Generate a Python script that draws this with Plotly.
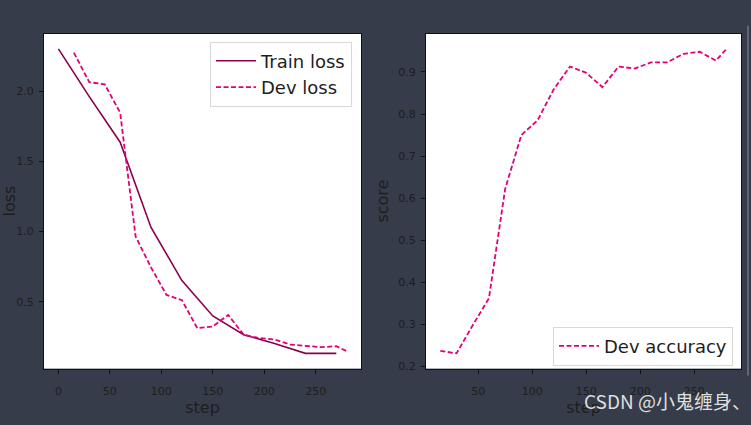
import plotly.graph_objects as go

# train loss, logged every 30 steps
train_steps = [0, 30, 60, 90, 120, 150, 180, 210, 240, 270]
train_loss = [2.30, 1.96, 1.636, 1.03, 0.652, 0.40, 0.267, 0.204, 0.134, 0.134]

# dev evaluation, every 15 steps plus the last step
dev_steps = [15, 30, 45, 60, 75, 90, 105, 120, 135, 150, 165, 180, 195, 210, 225, 240, 255, 270, 280]
dev_loss = [2.273, 2.063, 2.047, 1.846, 0.965, 0.745, 0.55, 0.512, 0.313, 0.325,
            0.407, 0.267, 0.243, 0.232, 0.197, 0.185, 0.178, 0.185, 0.15]
dev_acc = [0.237, 0.231, 0.298, 0.362, 0.622, 0.75, 0.785, 0.859, 0.913, 0.898,
           0.864, 0.913, 0.908, 0.923, 0.923, 0.943, 0.948, 0.927, 0.955]

x_ticks_left = [0, 50, 100, 150, 200, 250]
x_ticks_right = [50, 100, 150, 200, 250]
y_ticks_loss = [0.5, 1.0, 1.5, 2.0]
y_ticks_score = [0.2, 0.3, 0.4, 0.5, 0.6, 0.7, 0.8, 0.9]

TRAIN_COLOR = "#8E004D"
DEV_COLOR = "#E20079"
BG = "#363c4a"
TXT = "#1e1e1e"
W, H = 751, 425
DASH = "5px,2.5px"


def pad(vals, frac=0.05):
    lo, hi = min(vals), max(vals)
    m = (hi - lo) * frac
    return [lo - m, hi + m]


fig = go.Figure()

fig.add_trace(go.Scatter(
    x=train_steps, y=train_loss, name="Train loss", mode="lines",
    line=dict(color=TRAIN_COLOR, width=1.6), xaxis="x", yaxis="y", legend="legend",
))
fig.add_trace(go.Scatter(
    x=dev_steps, y=dev_loss, name="Dev loss", mode="lines",
    line=dict(color=DEV_COLOR, width=1.8, dash=DASH), xaxis="x", yaxis="y", legend="legend",
))
fig.add_trace(go.Scatter(
    x=dev_steps, y=dev_acc, name="Dev accuracy", mode="lines",
    line=dict(color=DEV_COLOR, width=1.8, dash=DASH), xaxis="x2", yaxis="y2", legend="legend2",
))

axis_style = dict(
    showline=True, mirror=True, linecolor="#111", linewidth=1,
    ticks="outside", ticklen=4, tickcolor="#111",
    showgrid=False, zeroline=False,
    tickfont=dict(family="DejaVu Sans", size=11, color=TXT),
)
title_font = dict(family="DejaVu Sans", size=16, color=TXT)
legend_font = dict(family="DejaVu Sans", size=18, color=TXT)

y_dom = [1 - 373 / H, 1 - 34 / H]

fig.update_layout(
    width=W, height=H,
    margin=dict(l=0, r=0, t=0, b=0),
    paper_bgcolor=BG, plot_bgcolor="white",
    showlegend=True,
    xaxis=dict(domain=[44 / W, 361 / W], range=pad(train_steps + dev_steps), tickvals=x_ticks_left,
               ticklabelstandoff=8,
               title=dict(text="step", font=title_font, standoff=4), anchor="y", **axis_style),
    yaxis=dict(domain=y_dom, range=pad(train_loss + dev_loss), tickvals=y_ticks_loss, tickformat=".1f",
               ticklabelstandoff=3,
               title=dict(text="loss", font=title_font, standoff=3), anchor="x", **axis_style),
    xaxis2=dict(domain=[426 / W, 741 / W], range=pad(dev_steps), tickvals=x_ticks_right,
                ticklabelstandoff=8,
                title=dict(text="step", font=title_font, standoff=4), anchor="y2", **axis_style),
    yaxis2=dict(domain=y_dom, range=pad(dev_acc), tickvals=y_ticks_score, tickformat=".1f",
                ticklabelstandoff=3,
                title=dict(text="score", font=title_font, standoff=5), anchor="x2", **axis_style),
    legend=dict(x=352 / W, y=1 - 42 / H, xanchor="right", yanchor="top", itemwidth=40,
                tracegroupgap=0, bgcolor="white", bordercolor="#d8d8d8", borderwidth=1,
                font=legend_font),
    legend2=dict(x=733 / W, y=1 - 370 / H, xanchor="right", yanchor="bottom", itemwidth=40,
                 bgcolor="white", bordercolor="#d8d8d8", borderwidth=1, font=legend_font),
)

# thin light line at the right edge of the screenshot
fig.add_shape(type="line", xref="paper", yref="paper", x0=748 / W, x1=748 / W,
              y0=1 - 26 / H, y1=1 - 380 / H, line=dict(color="#8a90a0", width=1))

# CSDN watermark
fig.add_annotation(text="CSDN @小鬼缠身、", xref="paper", yref="paper",
                   x=753 / W, y=1 - 405 / H, xanchor="right", yanchor="middle", showarrow=False,
                   font=dict(family="Noto Sans CJK SC", size=19, color="rgba(240,240,240,0.92)"))

fig.write_html(
    "out.html",
    config={"displayModeBar": False},
    post_script="document.body.style.margin='0';document.body.style.overflow='hidden';",
)
